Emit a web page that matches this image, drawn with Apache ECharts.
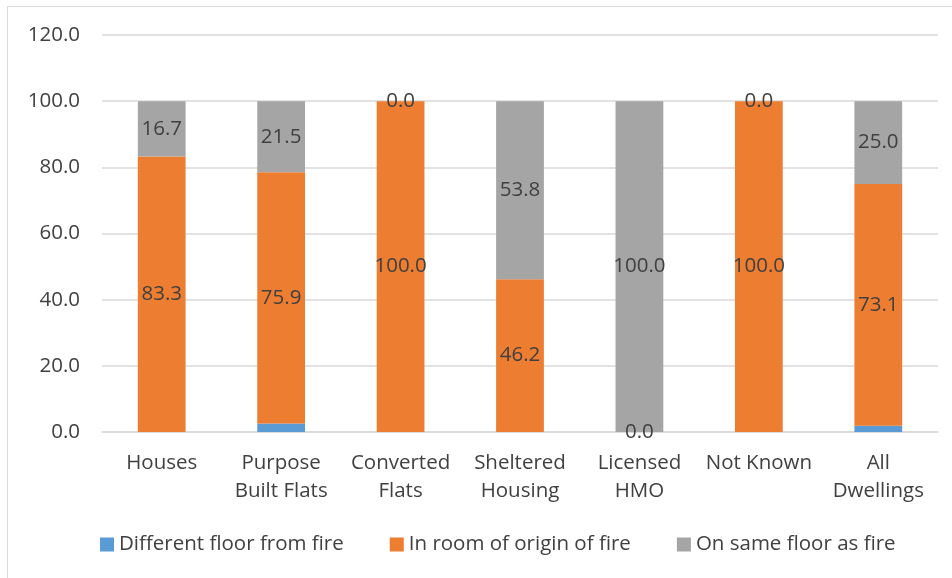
<!DOCTYPE html>
<html><head><meta charset="utf-8">
<script src="https://cdn.jsdelivr.net/npm/echarts@6/dist/echarts.min.js"></script>
<style>html,body{margin:0;padding:0;background:#fff}#c{width:952px;height:578px}</style>
</head><body><div id="c"></div>
<script>
const categories = ['Houses', 'Purpose\nBuilt Flats', 'Converted\nFlats', 'Sheltered\nHousing', 'Licensed\nHMO', 'Not Known', 'All\nDwellings'];
const differentFloor = [0, 2.6, 0, 0, 0, 0, 1.9];
const inRoom = [83.3, 75.9, 100.0, 46.2, 0.0, 100.0, 73.1];
const sameFloor = [16.7, 21.5, 0.0, 53.8, 100.0, 0.0, 25.0];
const yTicks = [0, 20, 40, 60, 80, 100, 120];

const FONT = 'Open Sans';
const FS = 20.5;
const TXT = '#404040';
const chart = echarts.init(document.getElementById('c'));
const lbl = {show: true, position: 'inside', color: TXT, fontSize: FS, fontFamily: FONT, formatter: p => p.value.toFixed(1)};
chart.setOption({
  animation: false,
  graphic: [{type: 'rect', shape: {x: 7.5, y: 6.5, width: 1000, height: 1000}, style: {fill: 'none', stroke: '#d9d9d9', lineWidth: 1}, silent: true}],
  grid: {left: 102, right: 14, top: 35, bottom: 146},
  legend: {
    bottom: 18, left: 95, itemWidth: 14, itemHeight: 14, itemGap: 46,
    icon: 'rect',
    textStyle: {color: TXT, fontSize: FS, fontFamily: FONT},
    data: ['Different floor from fire', 'In room of origin of fire', 'On same floor as fire']
  },
  xAxis: {
    type: 'category', data: categories,
    axisLine: {lineStyle: {color: '#d9d9d9', width: 1.5}}, axisTick: {show: false},
    axisLabel: {color: TXT, fontSize: FS, fontFamily: FONT, lineHeight: 28, margin: 17, interval: 0}
  },
  yAxis: {
    type: 'value', min: 0, max: 120, interval: 20,
    axisLine: {show: false}, axisTick: {show: false},
    splitLine: {lineStyle: {color: '#d9d9d9', width: 1.5}},
    axisLabel: {color: TXT, fontSize: FS, fontFamily: FONT, margin: 22, formatter: v => yTicks.includes(v) ? v.toFixed(1) : ''}
  },
  series: [
    {name: 'Different floor from fire', type: 'bar', stack: 's', data: differentFloor, barWidth: '40%', itemStyle: {color: '#5b9bd5'}},
    {name: 'In room of origin of fire', type: 'bar', stack: 's', data: inRoom, itemStyle: {color: '#ed7d31'}, label: lbl},
    {name: 'On same floor as fire', type: 'bar', stack: 's', data: sameFloor, itemStyle: {color: '#a5a5a5'}, label: lbl}
  ]
});
</script></body></html>
